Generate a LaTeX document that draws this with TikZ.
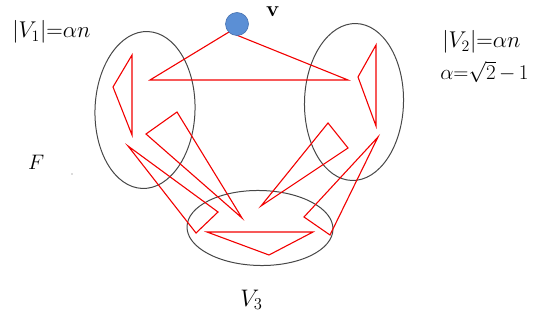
\documentclass[tikz,border=0pt]{standalone}
\usetikzlibrary{shapes.geometric}
\begin{document}
\begin{tikzpicture}[x=1pt,y=-1pt,
  ell/.style={draw=black!72, line width=1pt, ellipse, inner sep=0pt},
  redline/.style={draw=red!95!black, line width=1.1pt, line join=miter},
  lab/.style={anchor=base west, inner sep=0pt, font=\fontsize{17.28}{21}\selectfont, scale=1.32}]
\useasboundingbox (0,0) rectangle (537,320);
% ellipses (parts)
\node[ell, minimum width=100pt, minimum height=157pt, rotate=-2] (V1) at (145,110) {};
\node[ell, minimum width=99pt, minimum height=157pt, rotate=-1.5] (V2) at (354,102) {};
\node[ell, minimum width=146pt, minimum height=75pt, rotate=-1] (V3) at (260,228) {};
% red triangles
\draw[redline] (229,32) -- (150,80) -- (348,80) -- cycle;
\draw[redline] (132,55) -- (113,87) -- (132,135) -- cycle;
\draw[redline] (376,45) -- (358,77) -- (376,126) -- cycle;
\draw[redline] (177,112) -- (146,134) -- (242,218) -- cycle;
\draw[redline] (128,146) -- (218,212) -- (196,233) -- cycle;
\draw[redline] (328,123) -- (348,148) -- (261,206) -- cycle;
\draw[redline] (378,137) -- (304,217) -- (330,235) -- cycle;
\draw[redline] (207,232) -- (313,232) -- (269,255) -- cycle;
% vertex v
\node[circle, fill={rgb,255:red,91;green,143;blue,213}, draw={rgb,255:red,70;green,114;blue,176}, line width=0.6pt, minimum size=23pt, inner sep=0pt] (v) at (237,24) {};
\node[anchor=base west, inner sep=0pt, font=\fontsize{22}{26}\selectfont\bfseries] (vl) at (266,17) {v};
% labels
\node[lab] (l1) at (12,38) {$|V_1|{=}\alpha n$};
\node[lab] (l2) at (442,48) {$|V_2|{=}\alpha n$};
\node[lab, scale=0.92] (l3) at (440,80) {$\alpha{=}\sqrt{2}\,{-}\,1$};
\node[lab, scale=0.92] (lF) at (28,170) {$F$};
\node[lab, scale=1.05] (lV3) at (240,306) {$V_3$};
\fill[black!60] (72,174) circle (0.7pt);
\end{tikzpicture}
\end{document}
